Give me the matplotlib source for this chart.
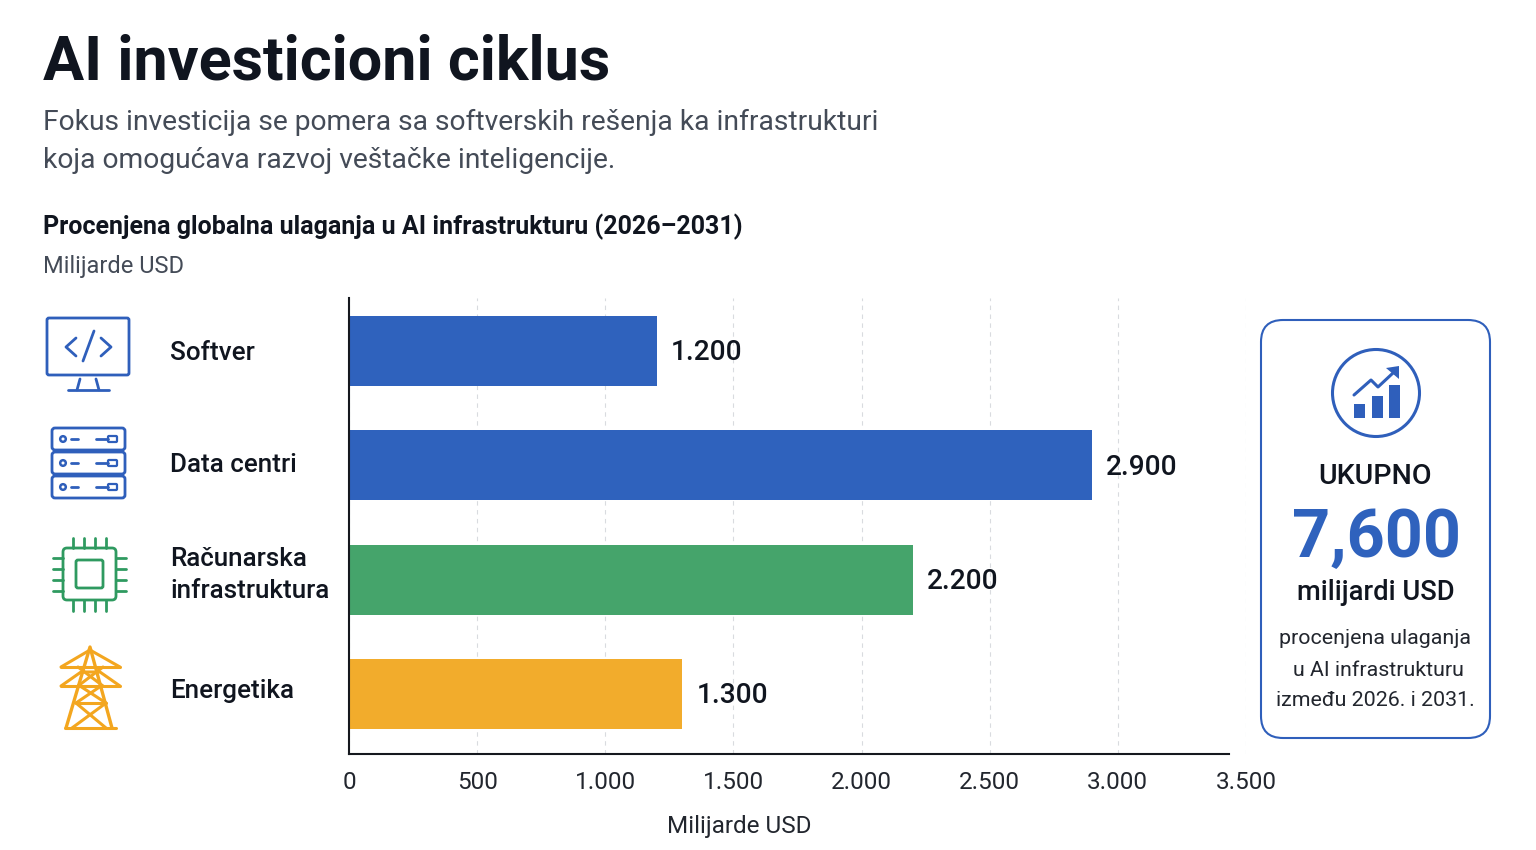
import matplotlib
matplotlib.use("Agg")
import matplotlib.pyplot as plt
from matplotlib.patches import FancyBboxPatch, Rectangle, Circle, Polygon

plt.rcParams['font.family'] = ['Roboto', 'DejaVu Sans']

categories = ["Softver", "Data centri", "Računarska\ninfrastruktura", "Energetika"]
values = [1200, 2900, 2200, 1300]
value_labels = ["1.200", "2.900", "2.200", "1.300"]
colors = ["#2f62bd", "#2f62bd", "#45a46b", "#f2ac2c"]
ticks = [0, 500, 1000, 1500, 2000, 2500, 3000, 3500]
tick_labels = ["0", "500", "1.000", "1.500", "2.000", "2.500", "3.000", "3.500"]

DARK = "#10151f"
GREY = "#444b57"
BLUE = "#2f5fbb"
GREEN = "#2f9a60"
ORANGE = "#f3a61f"

fig = plt.figure(figsize=(15.36, 8.5), dpi=100)

# overlay in pixel coordinates for text, icons and the card
bg = fig.add_axes([0, 0, 1, 1])
bg.set_xlim(0, 1536)
bg.set_ylim(850, 0)
bg.axis("off")

ax = fig.add_axes([349/1536, 1-754/850, 897/1536, 456/850])
ax.patch.set_alpha(0)
bars = ax.barh(range(4), values, height=0.61, color=colors)
ax.set_xlim(0, 3500)
ax.set_ylim(3.524, -0.463)
ax.set_xticks(ticks)
ax.set_xticklabels(tick_labels, fontsize=17.5, color="#22262e")
ax.set_yticks([])
ax.tick_params(axis="x", length=0, pad=12)
ax.xaxis.grid(True, color="#d9dbdf", linestyle=(0, (4, 4)), linewidth=0.8)
ax.set_axisbelow(True)
for s in ["top", "right"]:
    ax.spines[s].set_visible(False)
ax.spines["left"].set_linewidth(1.5)
ax.spines["bottom"].set_linewidth(1.5)
ax.spines["left"].set_color("#15181e")
ax.spines["bottom"].set_color("#15181e")
ax.spines["bottom"].set_bounds(0, 3432)
ax.set_xlabel("Milijarde USD", fontsize=17.5, color="#22262e")
ax.xaxis.set_label_coords(390/897, -0.134)
for i in range(4):
    ax.text(values[i] + 55, i + 0.015, value_labels[i], va="center", ha="left",
            fontsize=20.2, fontweight="medium", color=DARK)

# headings
bg.text(43, 62, "AI investicioni ciklus", fontsize=44, fontweight="bold", color=DARK, va="center")
bg.text(43, 122, "Fokus investicija se pomera sa softverskih rešenja ka infrastrukturi",
        fontsize=20.3, color=GREY, va="center")
bg.text(43, 160, "koja omogućava razvoj veštačke inteligencije.", fontsize=20.3, color=GREY, va="center")
bg.text(43, 227, "Procenjena globalna ulaganja u AI infrastrukturu (2026–2031)",
        fontsize=18, fontweight="bold", color=DARK, va="center")
bg.text(43, 266, "Milijarde USD", fontsize=17, color=GREY, va="center")

# category names
bg.text(170, 353, categories[0], fontsize=18.7, fontweight="medium", color=DARK, va="center")
bg.text(170, 465, categories[1], fontsize=18.7, fontweight="medium", color=DARK, va="center")
bg.text(170, 575, categories[2], fontsize=18.7, fontweight="medium", color=DARK, va="center", linespacing=1.42)
bg.text(170, 691, categories[3], fontsize=18.7, fontweight="medium", color=DARK, va="center")


def line(xs, ys, c, lw=2.0):
    bg.plot(xs, ys, color=c, lw=lw, solid_capstyle="round", solid_joinstyle="round")


def rbox(x, y, w, h, r, c, lw=2.0):
    bg.add_patch(FancyBboxPatch((x+r, y+r), w-2*r, h-2*r, boxstyle="round,pad=%f,rounding_size=%f" % (r, r),
                                fc="white", ec=c, lw=lw))


# monitor icon
rbox(47, 318, 82, 57, 2, BLUE)
line([76, 66, 76], [338, 347, 356], BLUE)
line([101, 111, 101], [338, 347, 356], BLUE)
line([94, 83], [331, 361], BLUE)
line([80, 77], [379, 390], BLUE)
line([96, 99], [379, 390], BLUE)
line([68, 109], [390, 390], BLUE)

# server icon
for y in [428, 452, 476]:
    rbox(52, y, 73, 22, 3, BLUE)
    cy = y + 11
    bg.add_patch(Circle((63, cy), 2.8, fc="white", ec=BLUE, lw=1.8))
    line([71, 78], [cy, cy], BLUE)
    line([96, 108], [cy, cy], BLUE)
    rbox(108, cy-3, 9, 6, 1, BLUE, 1.6)

# chip icon
rbox(63, 548, 53, 52, 4, GREEN)
rbox(76, 560, 27, 28, 2, GREEN)
for k in [73, 84, 95, 106]:
    line([k, k], [538, 548], GREEN)
    line([k, k], [600, 611], GREEN)
for k in [558, 569, 580, 591]:
    line([53, 63], [k, k], GREEN)
    line([116, 126], [k, k], GREEN)

# pylon icon
line([66, 90, 112], [728, 647, 728], ORANGE, 2.4)
line([61, 90, 120], [667, 650, 667], ORANGE, 2.2)
line([61, 120], [667, 667], ORANGE, 2.2)
line([61, 81, 100, 120], [686, 672, 672, 686], ORANGE, 2.2)
line([61, 120], [686, 686], ORANGE, 2.2)
line([78, 103], [667, 686], ORANGE, 2.2)
line([103, 78], [667, 686], ORANGE, 2.2)
line([76, 106], [703, 703], ORANGE, 2.2)
line([80, 106], [686, 703], ORANGE, 2.2)
line([101, 76], [686, 703], ORANGE, 2.2)
line([76, 106], [703, 728], ORANGE, 2.2)
line([106, 72], [703, 728], ORANGE, 2.2)
line([65, 116], [728, 728], ORANGE, 2.2)

# total card
rbox(1261, 320, 229, 418, 22, "#2f5fbb", 1.5)
bg.add_patch(Circle((1376, 393), 43.5, fc="white", ec=BLUE, lw=2.2))
bg.add_patch(Rectangle((1354, 404), 11, 14, fc=BLUE, ec="none"))
bg.add_patch(Rectangle((1372, 396), 11, 22, fc=BLUE, ec="none"))
bg.add_patch(Rectangle((1389, 385), 11, 33, fc=BLUE, ec="none"))
line([1354, 1371, 1378, 1393], [395, 380, 387, 373], BLUE, 2.2)
bg.add_patch(Polygon([[1386, 368], [1399, 366], [1399, 379]], fc=BLUE, ec="none"))
bg.text(1375, 476, "UKUPNO", fontsize=20.5, fontweight="medium", color=DARK, ha="center", va="center")
bg.text(1376, 539, "7,600", fontsize=48, fontweight="bold", color="#2f62bd", ha="center", va="center")
bg.text(1376, 592, "milijardi USD", fontsize=19.7, fontweight="medium", color=DARK, ha="center", va="center")
bg.text(1375, 639, "procenjena ulaganja", fontsize=15.4, color="#22262e", ha="center", va="center")
bg.text(1378, 670, "u AI infrastrukturu", fontsize=15.4, color="#22262e", ha="center", va="center")
bg.text(1375, 701, "između 2026. i 2031.", fontsize=15.4, color="#22262e", ha="center", va="center")

plt.savefig("out.png", dpi=100)
